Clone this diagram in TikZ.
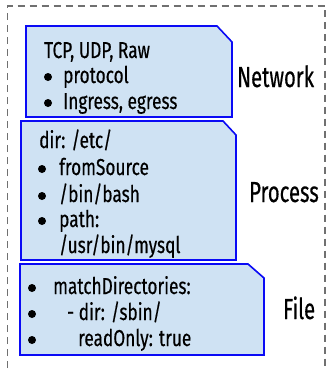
\documentclass[tikz,border=0pt]{standalone}
\usepackage{fontspec}
\setmainfont{Fira Sans}[FakeStretch=0.75,FakeBold=0.4]
\newfontfamily\labelfont{Fira Sans}[FakeStretch=0.7,FakeBold=0.4]
\usetikzlibrary{positioning}
\definecolor{boxfill}{HTML}{CFE2F3}
\definecolor{boxline}{HTML}{0A0AF5}
\definecolor{framegray}{HTML}{707070}
\tikzset{
  infobox/.style={
    draw=boxline,
    fill=boxfill,
    line width=1.6pt
  },
  boxtext/.style={
    anchor=base west,
    inner sep=0pt,
    font=\fontsize{23}{27}\selectfont
  },
  layerlabel/.style={
    anchor=base west,
    inner sep=0pt,
    font=\labelfont\fontsize{29}{34}\selectfont
  },
  outerframe/.style={
    draw=framegray,
    line width=1.1pt,
    dash pattern=on 7pt off 5pt
  }
}
\newcommand{\bulletdot}[2]{\fill (#1,#2-6) circle (4);}

\begin{document}
\begin{tikzpicture}[x=1pt,y=-1pt]
  \useasboundingbox (0,0) rectangle (328,369);
  \draw[outerframe] (7.5,380) -- (7.5,6) -- (325,6) -- (325,380);

  % network layer
  \path[infobox] (26,26) -- (217,26) -- (232,42) -- (232,117) -- (26,117) -- cycle;
  \node[boxtext] (net1) at (44,58) {TCP, UDP, Raw};
  \node[boxtext] (net2) at (63,83) {protocol};
  \node[boxtext] (net3) at (63,109) {Ingress, egress};
  \bulletdot{48}{83}
  \bulletdot{48}{109}
  \node[layerlabel] (network) at (237,87) {Network};

  % process layer
  \path[infobox] (21,121) -- (223,121) -- (236,135) -- (236,260) -- (21,260) -- cycle;
  \node[boxtext] (proc1) at (39,148) {dir: /etc/};
  \node[boxtext] (proc2) at (59,175) {fromSource};
  \node[boxtext] (proc3) at (59,202) {/bin/bash};
  \node[boxtext] (proc4) at (59,227) {path:};
  \node[boxtext] (proc5) at (59,253) {/usr/bin/mysql};
  \bulletdot{42}{175}
  \bulletdot{42}{202}
  \bulletdot{42}{227}
  \node[layerlabel] (process) at (249,202) {Process};

  % file layer
  \path[infobox] (20,264) -- (248,264) -- (264,278) -- (264,355) -- (20,355) -- cycle;
  \node[boxtext] (file1) at (53,294) {matchDirectories:};
  \node[boxtext] (file2) at (67,320) {- dir: /sbin/};
  \node[boxtext] (file3) at (78,346) {readOnly: true};
  \bulletdot{32}{294}
  \bulletdot{32}{320}
  \bulletdot{32}{346}
  \node[layerlabel] (file) at (283,319) {File};
\end{tikzpicture}
\end{document}
